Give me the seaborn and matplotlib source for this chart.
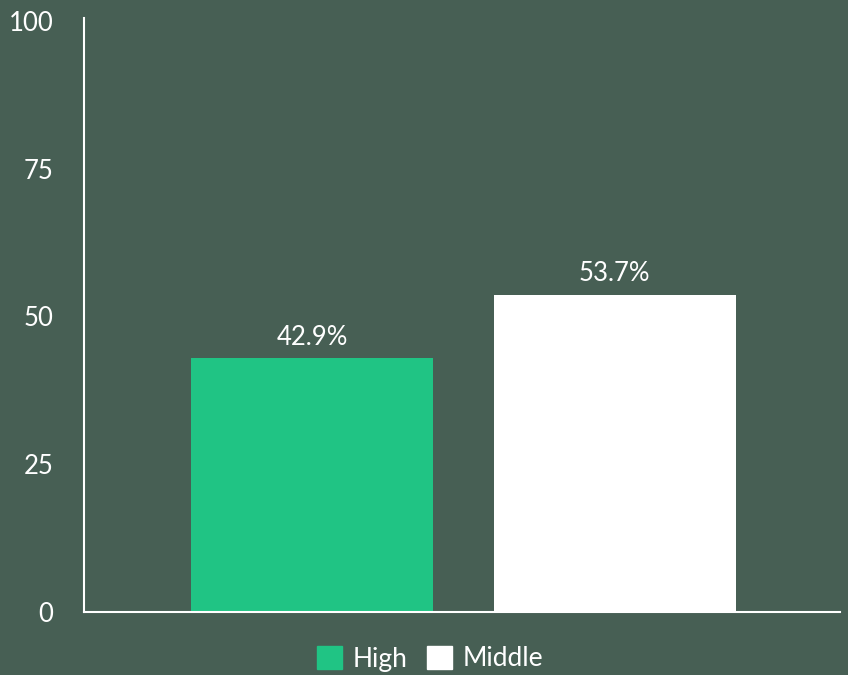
import pandas as pd
import matplotlib.pyplot as plt
import seaborn as sns
from matplotlib.patches import Patch

# Data
categories = ["High", "Middle"]
values = [42.9, 53.7]
colors = ["#20c484", "#ffffff"]

BG = "#475f54"

sns.set_theme(style="white")
plt.rcParams['font.family'] = ['Lato', 'DejaVu Sans']

df = pd.DataFrame({"Group": categories, "Share": values})

fig = plt.figure(figsize=(8.48, 6.75), dpi=100, facecolor=BG)
ax = fig.add_axes([84 / 848, 63 / 675, 756 / 848, 591 / 675])
ax.set_facecolor(BG)

sns.barplot(data=df, x="Group", y="Share", hue="Group", palette=colors,
            width=0.8, saturation=1, legend=False, linewidth=0, ax=ax)

for i, v in enumerate(values):
    ax.text(i, v + 1.4, f"{v}%", ha="center", va="bottom", color="white", fontsize=18.5)

ax.set_ylim(0, 100)
ax.set_xlim(-0.755, 1.745)
ax.set_yticks([0, 25, 50, 75, 100])
ax.tick_params(axis="y", colors="white", labelsize=18.5, length=0, pad=22)
ax.set_xticks([])
ax.set_xlabel("")
ax.set_ylabel("")

for side in ["top", "right"]:
    ax.spines[side].set_visible(False)
for side in ["left", "bottom"]:
    ax.spines[side].set_color("white")
    ax.spines[side].set_linewidth(1.5)
ax.spines["left"].set_bounds(0, 100.5)

handles = [Patch(facecolor=c, edgecolor=c, label=l) for c, l in zip(colors, categories)]
leg = fig.legend(handles=handles, loc="lower center", bbox_to_anchor=(0.507, -0.03), ncol=2,
                 frameon=False, fontsize=19, handlelength=0.95, handleheight=0.95,
                 handletextpad=0.4, columnspacing=0.75)
for t in leg.get_texts():
    t.set_color("white")

fig.savefig("out.png", dpi=100, facecolor=BG)
